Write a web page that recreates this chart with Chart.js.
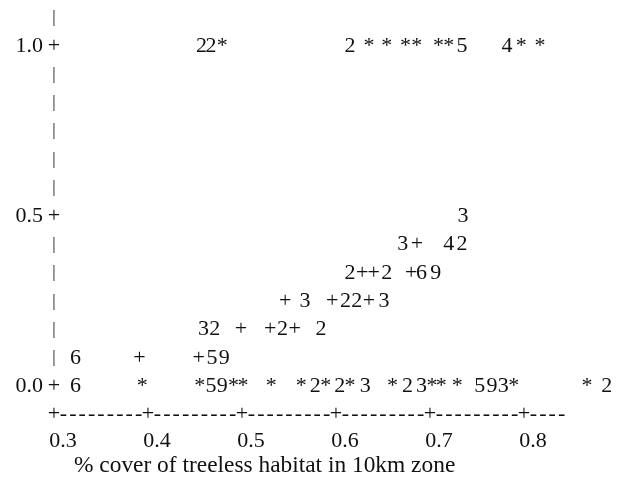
<!DOCTYPE html>
<html>
<head>
<meta charset="utf-8">
<script src="https://cdn.jsdelivr.net/npm/chart.js@4/dist/chart.umd.min.js"></script>
<style>
  html, body { margin: 0; padding: 0; background: #ffffff; }
  canvas { display: block; }
</style>
</head>
<body>
<canvas id="plot" width="619" height="494"></canvas>
<script>
// Character plot: proportion (y) against % cover of treeless habitat in 10km zone (x).
// Each plotted symbol is a count of coincident sites: * = 1, digits = that many, + = other group.

const yLevels = [1.0, 0.5, 0.4167, 0.3333, 0.25, 0.1667, 0.0833, 0.0];

const xRow100 = [0.457, 0.467, 0.479, 0.615, 0.635, 0.654, 0.674, 0.686, 0.709, 0.720, 0.734, 0.782, 0.797, 0.817];
const xRow050 = [0.735];
const xRow042 = [0.671, 0.686, 0.720, 0.734];
const xRow033 = [0.615, 0.628, 0.640, 0.654, 0.680, 0.691, 0.706];
const xRow025 = [0.546, 0.567, 0.596, 0.610, 0.622, 0.635, 0.651];
const xRow017 = [0.459, 0.471, 0.499, 0.530, 0.543, 0.556, 0.584];
const xRow008 = [0.323, 0.391, 0.454, 0.468, 0.481];
const xRow000 = [0.323, 0.394, 0.455, 0.467, 0.479, 0.491, 0.501, 0.531, 0.563, 0.578, 0.589, 0.604, 0.615,
                 0.631, 0.660, 0.676, 0.691, 0.702, 0.712, 0.729, 0.753, 0.766, 0.778, 0.789, 0.867, 0.888];

const rowSymbols = [
  "22*2******54**",
  "3",
  "3+42",
  "2++2+69",
  "+3+22+3",
  "32++2+2",
  "6++59",
  "6**59****2*2*3*23***593**2"
];

const xTicks = [0.3, 0.4, 0.5, 0.6, 0.7, 0.8];
const yTicks = [0.0, 0.5, 1.0];
const xTitle = "% cover of treeless habitat in 10km zone";

const INK = '#111111';
const FONT = '"Liberation Serif", "Times New Roman", serif';

const rowsX = [xRow100, xRow050, xRow042, xRow033, xRow025, xRow017, xRow008, xRow000];

const datasets = rowsX.map((xs, i) => ({
  data: xs.map(x => ({ x: x, y: yLevels[i] })),
  symbols: rowSymbols[i],
  pointRadius: 0,
  pointHoverRadius: 0,
  showLine: false
}));

// Draws every point as its plot symbol, plus the typed-style axes.
const characterPlot = {
  id: 'characterPlot',
  afterDatasetsDraw(chart) {
    const ctx = chart.ctx;
    const xs = chart.scales.x;
    const ys = chart.scales.y;
    ctx.save();
    ctx.fillStyle = INK;
    ctx.textAlign = 'center';
    ctx.textBaseline = 'middle';
    ctx.font = '22px ' + FONT;

    chart.data.datasets.forEach((ds, i) => {
      const meta = chart.getDatasetMeta(i);
      meta.data.forEach((pt, j) => {
        ctx.fillText(ds.symbols[j], pt.x, pt.y);
      });
    });

    // vertical axis: a column of bars with + at labelled levels
    const axisX = xs.getPixelForValue(xTicks[0]);
    for (let r = 0; r <= 13; r++) {
      const v = r / 12;
      if (r % 6 === 0) {
        ctx.font = '22px ' + FONT;
        ctx.fillText('+', axisX, ys.getPixelForValue(v));
      } else {
        ctx.font = '17px ' + FONT;
        ctx.fillText('|', axisX, ys.getPixelForValue(v));
      }
    }

    // horizontal axis: + at each tick, dashes in between
    ctx.font = '22px ' + FONT;
    const axisY = ys.getPixelForValue(-1 / 12);
    for (let c = 30; c <= 84; c++) {
      const ch = (c % 10 === 0) ? '+' : '-';
      ctx.fillText(ch, xs.getPixelForValue(c / 100), axisY);
    }

    // axis title
    ctx.font = '23.4px ' + FONT;
    ctx.textAlign = 'left';
    ctx.fillText(xTitle, 74, 466);
    ctx.restore();
  }
};

// keep the plotting area fixed: no extra room reserved for edge labels
const noEdgePadding = (scale) => {
  scale.paddingTop = 0;
  scale.paddingBottom = 0;
  scale.paddingLeft = 0;
  scale.paddingRight = 0;
};

new Chart(document.getElementById('plot'), {
  type: 'scatter',
  data: { datasets: datasets },
  options: {
    responsive: false,
    animation: false,
    devicePixelRatio: 1,
    layout: { autoPadding: false, padding: { top: 5, right: 1, bottom: 0, left: 0 } },
    plugins: { legend: { display: false }, tooltip: { enabled: false } },
    scales: {
      x: {
        type: 'linear',
        min: 0.3,
        max: 0.9,
        grid: { display: false, drawTicks: false },
        border: { display: false },
        afterBuildTicks: (scale) => { scale.ticks = xTicks.map(v => ({ value: v })); },
        afterFit: (scale) => { scale.height = 67; noEdgePadding(scale); },
        ticks: {
          color: INK,
          font: { family: FONT, size: 22 },
          padding: 1,
          labelOffset: 9,
          maxRotation: 0,
          autoSkip: false,
          callback: (v) => Number(v).toFixed(1)
        }
      },
      y: {
        type: 'linear',
        min: -0.12,
        max: 1.12,
        grid: { display: false, drawTicks: false },
        border: { display: false },
        afterBuildTicks: (scale) => { scale.ticks = yTicks.map(v => ({ value: v })); },
        afterFit: (scale) => { scale.width = 54; noEdgePadding(scale); },
        ticks: {
          color: INK,
          font: { family: FONT, size: 22 },
          padding: 11,
          callback: (v) => Number(v).toFixed(1)
        }
      }
    }
  },
  plugins: [characterPlot]
});
</script>
</body>
</html>
